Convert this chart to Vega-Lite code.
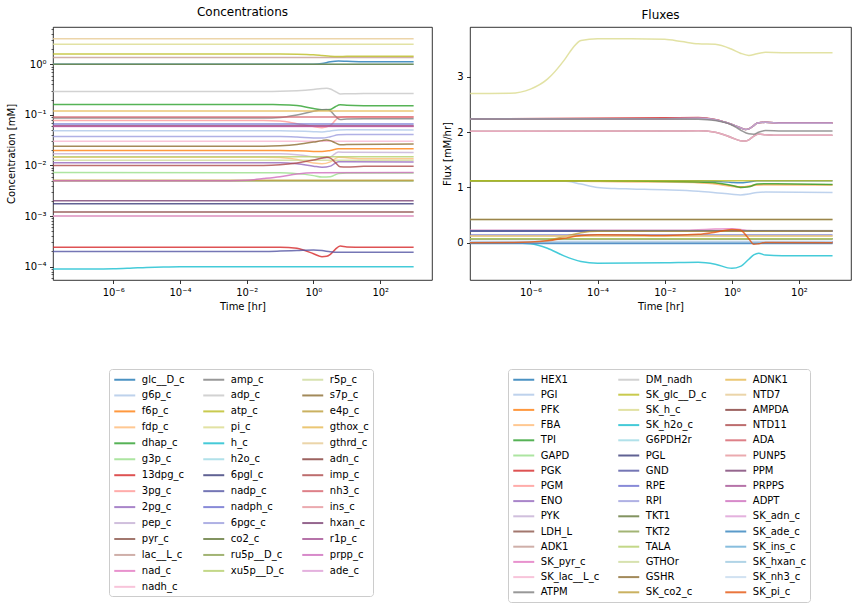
{
  "$schema": "https://vega.github.io/schema/vega-lite/v6.json",
  "padding": {"left": 6, "top": 5, "right": 5, "bottom": 5},
  "autosize": {"type": "pad"},
  "config": {
    "font": "DejaVu Sans",
    "view": {"stroke": "#000", "strokeWidth": 0.8},
    "axis": {"labelFont": "DejaVu Sans", "labelFontSize": 10, "labelColor": "#000", "titleFont": "DejaVu Sans", "titleFontSize": 10, "titleFontWeight": "normal", "titleColor": "#000", "tickColor": "#000", "tickWidth": 0.8, "tickSize": 3.5, "labelPadding": 3.5, "domain": false, "grid": false, "labelOverlap": false, "labelFlush": false},
    "title": {"font": "DejaVu Sans", "fontSize": 12, "fontWeight": "normal", "color": "#000", "offset": 5},
    "legend": {"labelFont": "DejaVu Sans", "labelFontSize": 10, "labelColor": "#000", "strokeColor": "#cccccc", "cornerRadius": 3, "fillColor": "#ffffff", "padding": 4, "labelLimit": 300, "symbolLimit": 100}
  },
  "datasets": {
    "conc": [
      {"time": 1e-8, "species": "glc__D_c", "conc": 1.0}, {"time": 0.32, "species": "glc__D_c", "conc": 1.0}, {"time": 1, "species": "glc__D_c", "conc": 1.005}, {"time": 1.8, "species": "glc__D_c", "conc": 1.04}, {"time": 3.2, "species": "glc__D_c", "conc": 1.12}, {"time": 5.6, "species": "glc__D_c", "conc": 1.16}, {"time": 10, "species": "glc__D_c", "conc": 1.15}, {"time": 32, "species": "glc__D_c", "conc": 1.13}, {"time": 1000, "species": "glc__D_c", "conc": 1.13},
      {"time": 1e-8, "species": "g6p_c", "conc": 0.0486}, {"time": 0.1, "species": "g6p_c", "conc": 0.0486}, {"time": 1, "species": "g6p_c", "conc": 0.0466}, {"time": 1.8, "species": "g6p_c", "conc": 0.046}, {"time": 3.2, "species": "g6p_c", "conc": 0.048}, {"time": 5.6, "species": "g6p_c", "conc": 0.0505}, {"time": 10, "species": "g6p_c", "conc": 0.0507}, {"time": 1000, "species": "g6p_c", "conc": 0.0505},
      {"time": 1e-8, "species": "f6p_c", "conc": 0.0198}, {"time": 0.1, "species": "f6p_c", "conc": 0.0198}, {"time": 0.32, "species": "f6p_c", "conc": 0.0195}, {"time": 1, "species": "f6p_c", "conc": 0.019}, {"time": 1.8, "species": "f6p_c", "conc": 0.0188}, {"time": 3.2, "species": "f6p_c", "conc": 0.0198}, {"time": 5.6, "species": "f6p_c", "conc": 0.0213}, {"time": 10, "species": "f6p_c", "conc": 0.0214}, {"time": 1000, "species": "f6p_c", "conc": 0.0213},
      {"time": 1e-8, "species": "fdp_c", "conc": 0.0146}, {"time": 0.032, "species": "fdp_c", "conc": 0.0146}, {"time": 0.1, "species": "fdp_c", "conc": 0.0143}, {"time": 0.32, "species": "fdp_c", "conc": 0.0132}, {"time": 1, "species": "fdp_c", "conc": 0.0112}, {"time": 1.8, "species": "fdp_c", "conc": 0.0108}, {"time": 3.2, "species": "fdp_c", "conc": 0.0118}, {"time": 5.6, "species": "fdp_c", "conc": 0.0145}, {"time": 10, "species": "fdp_c", "conc": 0.0142}, {"time": 32, "species": "fdp_c", "conc": 0.0136}, {"time": 1000, "species": "fdp_c", "conc": 0.0136},
      {"time": 1e-8, "species": "dhap_c", "conc": 0.16}, {"time": 0.032, "species": "dhap_c", "conc": 0.16}, {"time": 0.1, "species": "dhap_c", "conc": 0.159}, {"time": 0.32, "species": "dhap_c", "conc": 0.153}, {"time": 1, "species": "dhap_c", "conc": 0.134}, {"time": 1.8, "species": "dhap_c", "conc": 0.127}, {"time": 3.2, "species": "dhap_c", "conc": 0.128}, {"time": 4.5, "species": "dhap_c", "conc": 0.145}, {"time": 6.3, "species": "dhap_c", "conc": 0.158}, {"time": 10, "species": "dhap_c", "conc": 0.155}, {"time": 32, "species": "dhap_c", "conc": 0.152}, {"time": 1000, "species": "dhap_c", "conc": 0.151},
      {"time": 1e-8, "species": "g3p_c", "conc": 0.00728}, {"time": 0.1, "species": "g3p_c", "conc": 0.0072}, {"time": 0.32, "species": "g3p_c", "conc": 0.0069}, {"time": 1, "species": "g3p_c", "conc": 0.0063}, {"time": 1.8, "species": "g3p_c", "conc": 0.0059}, {"time": 3.2, "species": "g3p_c", "conc": 0.006}, {"time": 5.6, "species": "g3p_c", "conc": 0.0069}, {"time": 10, "species": "g3p_c", "conc": 0.0071}, {"time": 1000, "species": "g3p_c", "conc": 0.0071},
      {"time": 1e-8, "species": "13dpg_c", "conc": 0.000243}, {"time": 0.1, "species": "13dpg_c", "conc": 0.000243}, {"time": 0.32, "species": "13dpg_c", "conc": 0.00023}, {"time": 1, "species": "13dpg_c", "conc": 0.00018}, {"time": 1.8, "species": "13dpg_c", "conc": 0.000157}, {"time": 2.5, "species": "13dpg_c", "conc": 0.00016}, {"time": 3.2, "species": "13dpg_c", "conc": 0.000175}, {"time": 4.5, "species": "13dpg_c", "conc": 0.00022}, {"time": 6.3, "species": "13dpg_c", "conc": 0.000255}, {"time": 10, "species": "13dpg_c", "conc": 0.000245}, {"time": 32, "species": "13dpg_c", "conc": 0.000243}, {"time": 1000, "species": "13dpg_c", "conc": 0.000243},
      {"time": 1e-8, "species": "3pg_c", "conc": 0.0773}, {"time": 0.032, "species": "3pg_c", "conc": 0.0773}, {"time": 0.1, "species": "3pg_c", "conc": 0.0755}, {"time": 0.32, "species": "3pg_c", "conc": 0.067}, {"time": 1, "species": "3pg_c", "conc": 0.059}, {"time": 1.8, "species": "3pg_c", "conc": 0.056}, {"time": 3.2, "species": "3pg_c", "conc": 0.062}, {"time": 4.5, "species": "3pg_c", "conc": 0.078}, {"time": 5.6, "species": "3pg_c", "conc": 0.089}, {"time": 10, "species": "3pg_c", "conc": 0.092}, {"time": 1000, "species": "3pg_c", "conc": 0.091},
      {"time": 1e-8, "species": "2pg_c", "conc": 0.0113}, {"time": 0.1, "species": "2pg_c", "conc": 0.0113}, {"time": 0.32, "species": "2pg_c", "conc": 0.0108}, {"time": 1, "species": "2pg_c", "conc": 0.0097}, {"time": 1.8, "species": "2pg_c", "conc": 0.0092}, {"time": 3.2, "species": "2pg_c", "conc": 0.0097}, {"time": 4.5, "species": "2pg_c", "conc": 0.0111}, {"time": 5.6, "species": "2pg_c", "conc": 0.0118}, {"time": 10, "species": "2pg_c", "conc": 0.0118}, {"time": 1000, "species": "2pg_c", "conc": 0.0117},
      {"time": 1e-8, "species": "pep_c", "conc": 0.017}, {"time": 0.1, "species": "pep_c", "conc": 0.017}, {"time": 0.32, "species": "pep_c", "conc": 0.0163}, {"time": 1, "species": "pep_c", "conc": 0.0148}, {"time": 1.8, "species": "pep_c", "conc": 0.014}, {"time": 3.2, "species": "pep_c", "conc": 0.0148}, {"time": 4.5, "species": "pep_c", "conc": 0.0172}, {"time": 5.6, "species": "pep_c", "conc": 0.0185}, {"time": 10, "species": "pep_c", "conc": 0.0182}, {"time": 1000, "species": "pep_c", "conc": 0.018},
      {"time": 1e-8, "species": "pyr_c", "conc": 0.0603}, {"time": 1000, "species": "pyr_c", "conc": 0.0603},
      {"time": 1e-8, "species": "lac__L_c", "conc": 1.36}, {"time": 1000, "species": "lac__L_c", "conc": 1.36},
      {"time": 1e-8, "species": "nad_c", "conc": 0.0589}, {"time": 1000, "species": "nad_c", "conc": 0.0589},
      {"time": 1e-8, "species": "nadh_c", "conc": 0.0301}, {"time": 1000, "species": "nadh_c", "conc": 0.0301},
      {"time": 1e-8, "species": "amp_c", "conc": 0.0867}, {"time": 0.032, "species": "amp_c", "conc": 0.0867}, {"time": 0.1, "species": "amp_c", "conc": 0.089}, {"time": 0.32, "species": "amp_c", "conc": 0.1}, {"time": 1, "species": "amp_c", "conc": 0.118}, {"time": 1.8, "species": "amp_c", "conc": 0.127}, {"time": 2.5, "species": "amp_c", "conc": 0.128}, {"time": 3.2, "species": "amp_c", "conc": 0.12}, {"time": 4.5, "species": "amp_c", "conc": 0.095}, {"time": 6.3, "species": "amp_c", "conc": 0.081}, {"time": 10, "species": "amp_c", "conc": 0.083}, {"time": 32, "species": "amp_c", "conc": 0.084}, {"time": 1000, "species": "amp_c", "conc": 0.084},
      {"time": 1e-8, "species": "adp_c", "conc": 0.29}, {"time": 0.032, "species": "adp_c", "conc": 0.29}, {"time": 0.1, "species": "adp_c", "conc": 0.292}, {"time": 0.32, "species": "adp_c", "conc": 0.3}, {"time": 1, "species": "adp_c", "conc": 0.318}, {"time": 1.8, "species": "adp_c", "conc": 0.332}, {"time": 2.5, "species": "adp_c", "conc": 0.336}, {"time": 3.2, "species": "adp_c", "conc": 0.325}, {"time": 4.5, "species": "adp_c", "conc": 0.29}, {"time": 6.3, "species": "adp_c", "conc": 0.26}, {"time": 10, "species": "adp_c", "conc": 0.262}, {"time": 32, "species": "adp_c", "conc": 0.266}, {"time": 1000, "species": "adp_c", "conc": 0.266},
      {"time": 1e-8, "species": "atp_c", "conc": 1.6}, {"time": 0.1, "species": "atp_c", "conc": 1.6}, {"time": 0.32, "species": "atp_c", "conc": 1.59}, {"time": 1, "species": "atp_c", "conc": 1.55}, {"time": 1.8, "species": "atp_c", "conc": 1.5}, {"time": 3.2, "species": "atp_c", "conc": 1.45}, {"time": 5.6, "species": "atp_c", "conc": 1.43}, {"time": 10, "species": "atp_c", "conc": 1.44}, {"time": 1000, "species": "atp_c", "conc": 1.45},
      {"time": 1e-8, "species": "pi_c", "conc": 2.5}, {"time": 1000, "species": "pi_c", "conc": 2.5},
      {"time": 1e-8, "species": "h_c", "conc": 8.99e-5}, {"time": 3.2e-7, "species": "h_c", "conc": 9.0e-5}, {"time": 1e-6, "species": "h_c", "conc": 9.05e-5}, {"time": 3.2e-6, "species": "h_c", "conc": 9.3e-5}, {"time": 1e-5, "species": "h_c", "conc": 9.65e-5}, {"time": 3.2e-5, "species": "h_c", "conc": 9.85e-5}, {"time": 1e-4, "species": "h_c", "conc": 9.9e-5}, {"time": 1000, "species": "h_c", "conc": 9.9e-5},
      {"time": 1e-8, "species": "h2o_c", "conc": 1.0}, {"time": 1000, "species": "h2o_c", "conc": 1.0},
      {"time": 1e-8, "species": "6pgl_c", "conc": 0.00175}, {"time": 1000, "species": "6pgl_c", "conc": 0.00175},
      {"time": 1e-8, "species": "nadp_c", "conc": 0.0002}, {"time": 0.032, "species": "nadp_c", "conc": 0.0002}, {"time": 0.1, "species": "nadp_c", "conc": 0.000203}, {"time": 0.32, "species": "nadp_c", "conc": 0.000208}, {"time": 1, "species": "nadp_c", "conc": 0.000213}, {"time": 1.8, "species": "nadp_c", "conc": 0.000208}, {"time": 3.2, "species": "nadp_c", "conc": 0.000197}, {"time": 5.6, "species": "nadp_c", "conc": 0.000192}, {"time": 1000, "species": "nadp_c", "conc": 0.000192},
      {"time": 1e-8, "species": "nadph_c", "conc": 0.0658}, {"time": 1000, "species": "nadph_c", "conc": 0.0658},
      {"time": 1e-8, "species": "6pgc_c", "conc": 0.0375}, {"time": 0.1, "species": "6pgc_c", "conc": 0.0375}, {"time": 0.32, "species": "6pgc_c", "conc": 0.0366}, {"time": 1, "species": "6pgc_c", "conc": 0.035}, {"time": 1.8, "species": "6pgc_c", "conc": 0.0348}, {"time": 3.2, "species": "6pgc_c", "conc": 0.037}, {"time": 5.6, "species": "6pgc_c", "conc": 0.0405}, {"time": 10, "species": "6pgc_c", "conc": 0.041}, {"time": 1000, "species": "6pgc_c", "conc": 0.041},
      {"time": 1e-8, "species": "co2_c", "conc": 1.0}, {"time": 1000, "species": "co2_c", "conc": 1.0},
      {"time": 1e-8, "species": "ru5p__D_c", "conc": 0.00494}, {"time": 1000, "species": "ru5p__D_c", "conc": 0.00494},
      {"time": 1e-8, "species": "xu5p__D_c", "conc": 0.0148}, {"time": 1000, "species": "xu5p__D_c", "conc": 0.0148},
      {"time": 1e-8, "species": "r5p_c", "conc": 0.0127}, {"time": 1000, "species": "r5p_c", "conc": 0.0127},
      {"time": 1e-8, "species": "s7p_c", "conc": 0.024}, {"time": 0.032, "species": "s7p_c", "conc": 0.024}, {"time": 0.1, "species": "s7p_c", "conc": 0.0245}, {"time": 0.32, "species": "s7p_c", "conc": 0.026}, {"time": 1, "species": "s7p_c", "conc": 0.029}, {"time": 1.8, "species": "s7p_c", "conc": 0.031}, {"time": 2.5, "species": "s7p_c", "conc": 0.032}, {"time": 3.2, "species": "s7p_c", "conc": 0.031}, {"time": 4.5, "species": "s7p_c", "conc": 0.028}, {"time": 6.3, "species": "s7p_c", "conc": 0.0256}, {"time": 10, "species": "s7p_c", "conc": 0.026}, {"time": 1000, "species": "s7p_c", "conc": 0.0265},
      {"time": 1e-8, "species": "e4p_c", "conc": 0.00508}, {"time": 1000, "species": "e4p_c", "conc": 0.00508},
      {"time": 1e-8, "species": "gthox_c", "conc": 0.12}, {"time": 1000, "species": "gthox_c", "conc": 0.12},
      {"time": 1e-8, "species": "gthrd_c", "conc": 3.2}, {"time": 1000, "species": "gthrd_c", "conc": 3.2},
      {"time": 1e-8, "species": "adn_c", "conc": 0.0012}, {"time": 1000, "species": "adn_c", "conc": 0.0012},
      {"time": 1e-8, "species": "imp_c", "conc": 0.01}, {"time": 0.032, "species": "imp_c", "conc": 0.01}, {"time": 0.1, "species": "imp_c", "conc": 0.0103}, {"time": 0.32, "species": "imp_c", "conc": 0.0112}, {"time": 1, "species": "imp_c", "conc": 0.0128}, {"time": 1.8, "species": "imp_c", "conc": 0.014}, {"time": 2.5, "species": "imp_c", "conc": 0.0145}, {"time": 3.2, "species": "imp_c", "conc": 0.014}, {"time": 4.5, "species": "imp_c", "conc": 0.0115}, {"time": 6.3, "species": "imp_c", "conc": 0.0094}, {"time": 10, "species": "imp_c", "conc": 0.0093}, {"time": 32, "species": "imp_c", "conc": 0.0096}, {"time": 1000, "species": "imp_c", "conc": 0.0097},
      {"time": 1e-8, "species": "nh3_c", "conc": 0.091}, {"time": 1000, "species": "nh3_c", "conc": 0.091},
      {"time": 1e-8, "species": "ins_c", "conc": 0.001}, {"time": 1000, "species": "ins_c", "conc": 0.001},
      {"time": 1e-8, "species": "hxan_c", "conc": 0.002}, {"time": 1000, "species": "hxan_c", "conc": 0.002},
      {"time": 1e-8, "species": "r1p_c", "conc": 0.06}, {"time": 1000, "species": "r1p_c", "conc": 0.06},
      {"time": 1e-8, "species": "prpp_c", "conc": 0.005}, {"time": 0.0032, "species": "prpp_c", "conc": 0.005}, {"time": 0.01, "species": "prpp_c", "conc": 0.0051}, {"time": 0.032, "species": "prpp_c", "conc": 0.0055}, {"time": 0.1, "species": "prpp_c", "conc": 0.006}, {"time": 0.32, "species": "prpp_c", "conc": 0.0068}, {"time": 1, "species": "prpp_c", "conc": 0.0072}, {"time": 1000, "species": "prpp_c", "conc": 0.0073},
      {"time": 1e-8, "species": "ade_c", "conc": 0.001}, {"time": 1000, "species": "ade_c", "conc": 0.001}
    ],
    "flux": [
      {"time": 1e-8, "reaction": "HEX1", "flux": 1.12}, {"time": 0.1, "reaction": "HEX1", "flux": 1.12}, {"time": 0.32, "reaction": "HEX1", "flux": 1.11}, {"time": 1, "reaction": "HEX1", "flux": 1.09}, {"time": 1.8, "reaction": "HEX1", "flux": 1.085}, {"time": 3.2, "reaction": "HEX1", "flux": 1.1}, {"time": 5.6, "reaction": "HEX1", "flux": 1.12}, {"time": 1000, "reaction": "HEX1", "flux": 1.12},
      {"time": 1e-8, "reaction": "PGI", "flux": 1.12}, {"time": 3.2e-6, "reaction": "PGI", "flux": 1.12}, {"time": 1e-5, "reaction": "PGI", "flux": 1.115}, {"time": 3.2e-5, "reaction": "PGI", "flux": 1.06}, {"time": 1e-4, "reaction": "PGI", "flux": 1.0}, {"time": 3.2e-4, "reaction": "PGI", "flux": 0.98}, {"time": 0.001, "reaction": "PGI", "flux": 0.972}, {"time": 0.01, "reaction": "PGI", "flux": 0.958}, {"time": 0.1, "reaction": "PGI", "flux": 0.932}, {"time": 0.32, "reaction": "PGI", "flux": 0.905}, {"time": 1, "reaction": "PGI", "flux": 0.875}, {"time": 1.8, "reaction": "PGI", "flux": 0.865}, {"time": 3.2, "reaction": "PGI", "flux": 0.88}, {"time": 5.6, "reaction": "PGI", "flux": 0.91}, {"time": 10, "reaction": "PGI", "flux": 0.915}, {"time": 1000, "reaction": "PGI", "flux": 0.91},
      {"time": 1e-8, "reaction": "PFK", "flux": 1.12}, {"time": 1e-5, "reaction": "PFK", "flux": 1.12}, {"time": 1e-4, "reaction": "PFK", "flux": 1.11}, {"time": 0.01, "reaction": "PFK", "flux": 1.105}, {"time": 0.1, "reaction": "PFK", "flux": 1.09}, {"time": 0.32, "reaction": "PFK", "flux": 1.07}, {"time": 1, "reaction": "PFK", "flux": 1.03}, {"time": 1.8, "reaction": "PFK", "flux": 1.01}, {"time": 3.2, "reaction": "PFK", "flux": 1.02}, {"time": 5.6, "reaction": "PFK", "flux": 1.05}, {"time": 10, "reaction": "PFK", "flux": 1.052}, {"time": 1000, "reaction": "PFK", "flux": 1.05},
      {"time": 1e-8, "reaction": "FBA", "flux": 1.12}, {"time": 1e-5, "reaction": "FBA", "flux": 1.12}, {"time": 1e-4, "reaction": "FBA", "flux": 1.108}, {"time": 0.01, "reaction": "FBA", "flux": 1.1}, {"time": 0.1, "reaction": "FBA", "flux": 1.085}, {"time": 0.32, "reaction": "FBA", "flux": 1.06}, {"time": 1, "reaction": "FBA", "flux": 1.015}, {"time": 1.8, "reaction": "FBA", "flux": 1.0}, {"time": 3.2, "reaction": "FBA", "flux": 1.015}, {"time": 5.6, "reaction": "FBA", "flux": 1.045}, {"time": 10, "reaction": "FBA", "flux": 1.05}, {"time": 1000, "reaction": "FBA", "flux": 1.05},
      {"time": 1e-8, "reaction": "TPI", "flux": 1.12}, {"time": 1e-4, "reaction": "TPI", "flux": 1.12}, {"time": 0.001, "reaction": "TPI", "flux": 1.115}, {"time": 0.1, "reaction": "TPI", "flux": 1.1}, {"time": 0.32, "reaction": "TPI", "flux": 1.085}, {"time": 1, "reaction": "TPI", "flux": 1.035}, {"time": 1.8, "reaction": "TPI", "flux": 1.0}, {"time": 3.2, "reaction": "TPI", "flux": 1.01}, {"time": 5.6, "reaction": "TPI", "flux": 1.06}, {"time": 10, "reaction": "TPI", "flux": 1.065}, {"time": 1000, "reaction": "TPI", "flux": 1.055},
      {"time": 1e-8, "reaction": "GAPD", "flux": 2.24}, {"time": 0.01, "reaction": "GAPD", "flux": 2.245}, {"time": 0.1, "reaction": "GAPD", "flux": 2.25}, {"time": 0.32, "reaction": "GAPD", "flux": 2.225}, {"time": 1, "reaction": "GAPD", "flux": 2.14}, {"time": 1.8, "reaction": "GAPD", "flux": 2.08}, {"time": 2.5, "reaction": "GAPD", "flux": 2.05}, {"time": 3.2, "reaction": "GAPD", "flux": 2.06}, {"time": 4.5, "reaction": "GAPD", "flux": 2.12}, {"time": 5.6, "reaction": "GAPD", "flux": 2.16}, {"time": 10, "reaction": "GAPD", "flux": 2.18}, {"time": 32, "reaction": "GAPD", "flux": 2.165}, {"time": 1000, "reaction": "GAPD", "flux": 2.165},
      {"time": 1e-8, "reaction": "PGK", "flux": 2.24}, {"time": 0.01, "reaction": "PGK", "flux": 2.26}, {"time": 0.1, "reaction": "PGK", "flux": 2.265}, {"time": 0.32, "reaction": "PGK", "flux": 2.23}, {"time": 1, "reaction": "PGK", "flux": 2.14}, {"time": 1.8, "reaction": "PGK", "flux": 2.08}, {"time": 2.5, "reaction": "PGK", "flux": 2.05}, {"time": 3.2, "reaction": "PGK", "flux": 2.06}, {"time": 4.5, "reaction": "PGK", "flux": 2.12}, {"time": 5.6, "reaction": "PGK", "flux": 2.16}, {"time": 10, "reaction": "PGK", "flux": 2.18}, {"time": 32, "reaction": "PGK", "flux": 2.165}, {"time": 1000, "reaction": "PGK", "flux": 2.165},
      {"time": 1e-8, "reaction": "PGM", "flux": 2.24}, {"time": 0.01, "reaction": "PGM", "flux": 2.245}, {"time": 0.1, "reaction": "PGM", "flux": 2.25}, {"time": 0.32, "reaction": "PGM", "flux": 2.225}, {"time": 1, "reaction": "PGM", "flux": 2.14}, {"time": 1.8, "reaction": "PGM", "flux": 2.08}, {"time": 2.5, "reaction": "PGM", "flux": 2.05}, {"time": 3.2, "reaction": "PGM", "flux": 2.06}, {"time": 4.5, "reaction": "PGM", "flux": 2.12}, {"time": 5.6, "reaction": "PGM", "flux": 2.16}, {"time": 10, "reaction": "PGM", "flux": 2.18}, {"time": 32, "reaction": "PGM", "flux": 2.165}, {"time": 1000, "reaction": "PGM", "flux": 2.165},
      {"time": 1e-8, "reaction": "ENO", "flux": 2.24}, {"time": 0.01, "reaction": "ENO", "flux": 2.245}, {"time": 0.1, "reaction": "ENO", "flux": 2.25}, {"time": 0.32, "reaction": "ENO", "flux": 2.225}, {"time": 1, "reaction": "ENO", "flux": 2.14}, {"time": 1.8, "reaction": "ENO", "flux": 2.08}, {"time": 2.5, "reaction": "ENO", "flux": 2.05}, {"time": 3.2, "reaction": "ENO", "flux": 2.06}, {"time": 4.5, "reaction": "ENO", "flux": 2.12}, {"time": 5.6, "reaction": "ENO", "flux": 2.16}, {"time": 10, "reaction": "ENO", "flux": 2.18}, {"time": 32, "reaction": "ENO", "flux": 2.165}, {"time": 1000, "reaction": "ENO", "flux": 2.165},
      {"time": 1e-8, "reaction": "PYK", "flux": 2.24}, {"time": 0.01, "reaction": "PYK", "flux": 2.245}, {"time": 0.1, "reaction": "PYK", "flux": 2.25}, {"time": 0.32, "reaction": "PYK", "flux": 2.225}, {"time": 1, "reaction": "PYK", "flux": 2.14}, {"time": 1.8, "reaction": "PYK", "flux": 2.08}, {"time": 2.5, "reaction": "PYK", "flux": 2.05}, {"time": 3.2, "reaction": "PYK", "flux": 2.06}, {"time": 4.5, "reaction": "PYK", "flux": 2.12}, {"time": 5.6, "reaction": "PYK", "flux": 2.16}, {"time": 10, "reaction": "PYK", "flux": 2.18}, {"time": 32, "reaction": "PYK", "flux": 2.16}, {"time": 1000, "reaction": "PYK", "flux": 2.16},
      {"time": 1e-8, "reaction": "LDH_L", "flux": 2.016}, {"time": 0.01, "reaction": "LDH_L", "flux": 2.02}, {"time": 0.1, "reaction": "LDH_L", "flux": 2.025}, {"time": 0.32, "reaction": "LDH_L", "flux": 2.0}, {"time": 1, "reaction": "LDH_L", "flux": 1.9}, {"time": 1.8, "reaction": "LDH_L", "flux": 1.845}, {"time": 2.5, "reaction": "LDH_L", "flux": 1.84}, {"time": 3.2, "reaction": "LDH_L", "flux": 1.86}, {"time": 4.5, "reaction": "LDH_L", "flux": 1.93}, {"time": 6.3, "reaction": "LDH_L", "flux": 1.965}, {"time": 10, "reaction": "LDH_L", "flux": 1.955}, {"time": 32, "reaction": "LDH_L", "flux": 1.945}, {"time": 1000, "reaction": "LDH_L", "flux": 1.945},
      {"time": 1e-8, "reaction": "ADK1", "flux": 0.0}, {"time": 1000, "reaction": "ADK1", "flux": 0.0},
      {"time": 1e-8, "reaction": "SK_pyr_c", "flux": 0.224}, {"time": 0.032, "reaction": "SK_pyr_c", "flux": 0.225}, {"time": 0.1, "reaction": "SK_pyr_c", "flux": 0.235}, {"time": 0.32, "reaction": "SK_pyr_c", "flux": 0.245}, {"time": 1, "reaction": "SK_pyr_c", "flux": 0.25}, {"time": 1.8, "reaction": "SK_pyr_c", "flux": 0.24}, {"time": 3.2, "reaction": "SK_pyr_c", "flux": 0.22}, {"time": 5.6, "reaction": "SK_pyr_c", "flux": 0.215}, {"time": 1000, "reaction": "SK_pyr_c", "flux": 0.215},
      {"time": 1e-8, "reaction": "SK_lac__L_c", "flux": 2.016}, {"time": 0.01, "reaction": "SK_lac__L_c", "flux": 2.02}, {"time": 0.1, "reaction": "SK_lac__L_c", "flux": 2.025}, {"time": 0.32, "reaction": "SK_lac__L_c", "flux": 2.0}, {"time": 1, "reaction": "SK_lac__L_c", "flux": 1.9}, {"time": 1.8, "reaction": "SK_lac__L_c", "flux": 1.845}, {"time": 2.5, "reaction": "SK_lac__L_c", "flux": 1.84}, {"time": 3.2, "reaction": "SK_lac__L_c", "flux": 1.86}, {"time": 4.5, "reaction": "SK_lac__L_c", "flux": 1.93}, {"time": 6.3, "reaction": "SK_lac__L_c", "flux": 1.965}, {"time": 10, "reaction": "SK_lac__L_c", "flux": 1.955}, {"time": 32, "reaction": "SK_lac__L_c", "flux": 1.945}, {"time": 1000, "reaction": "SK_lac__L_c", "flux": 1.945},
      {"time": 1e-8, "reaction": "ATPM", "flux": 2.24}, {"time": 0.01, "reaction": "ATPM", "flux": 2.24}, {"time": 0.1, "reaction": "ATPM", "flux": 2.235}, {"time": 0.32, "reaction": "ATPM", "flux": 2.21}, {"time": 1, "reaction": "ATPM", "flux": 2.13}, {"time": 1.8, "reaction": "ATPM", "flux": 2.04}, {"time": 3.2, "reaction": "ATPM", "flux": 1.97}, {"time": 4.5, "reaction": "ATPM", "flux": 1.962}, {"time": 6.3, "reaction": "ATPM", "flux": 2.0}, {"time": 10, "reaction": "ATPM", "flux": 2.03}, {"time": 32, "reaction": "ATPM", "flux": 2.02}, {"time": 1000, "reaction": "ATPM", "flux": 2.02},
      {"time": 1e-8, "reaction": "DM_nadh", "flux": 0.22}, {"time": 1000, "reaction": "DM_nadh", "flux": 0.22},
      {"time": 1e-8, "reaction": "SK_glc__D_c", "flux": 1.12}, {"time": 1000, "reaction": "SK_glc__D_c", "flux": 1.12},
      {"time": 1e-8, "reaction": "SK_h_c", "flux": 2.7}, {"time": 2.5e-7, "reaction": "SK_h_c", "flux": 2.705}, {"time": 1e-6, "reaction": "SK_h_c", "flux": 2.78}, {"time": 3.2e-6, "reaction": "SK_h_c", "flux": 2.96}, {"time": 1e-5, "reaction": "SK_h_c", "flux": 3.3}, {"time": 1.8e-5, "reaction": "SK_h_c", "flux": 3.52}, {"time": 3.2e-5, "reaction": "SK_h_c", "flux": 3.66}, {"time": 1e-4, "reaction": "SK_h_c", "flux": 3.69}, {"time": 0.001, "reaction": "SK_h_c", "flux": 3.69}, {"time": 0.01, "reaction": "SK_h_c", "flux": 3.68}, {"time": 0.032, "reaction": "SK_h_c", "flux": 3.64}, {"time": 0.1, "reaction": "SK_h_c", "flux": 3.6}, {"time": 0.32, "reaction": "SK_h_c", "flux": 3.59}, {"time": 1, "reaction": "SK_h_c", "flux": 3.5}, {"time": 1.8, "reaction": "SK_h_c", "flux": 3.43}, {"time": 3.2, "reaction": "SK_h_c", "flux": 3.39}, {"time": 5.6, "reaction": "SK_h_c", "flux": 3.42}, {"time": 10, "reaction": "SK_h_c", "flux": 3.445}, {"time": 32, "reaction": "SK_h_c", "flux": 3.44}, {"time": 1000, "reaction": "SK_h_c", "flux": 3.44},
      {"time": 1e-8, "reaction": "SK_h2o_c", "flux": 0.0}, {"time": 3.2e-7, "reaction": "SK_h2o_c", "flux": -0.005}, {"time": 1e-6, "reaction": "SK_h2o_c", "flux": -0.02}, {"time": 3.2e-6, "reaction": "SK_h2o_c", "flux": -0.1}, {"time": 1e-5, "reaction": "SK_h2o_c", "flux": -0.24}, {"time": 3.2e-5, "reaction": "SK_h2o_c", "flux": -0.34}, {"time": 1e-4, "reaction": "SK_h2o_c", "flux": -0.372}, {"time": 0.001, "reaction": "SK_h2o_c", "flux": -0.37}, {"time": 0.01, "reaction": "SK_h2o_c", "flux": -0.365}, {"time": 0.1, "reaction": "SK_h2o_c", "flux": -0.355}, {"time": 0.32, "reaction": "SK_h2o_c", "flux": -0.39}, {"time": 1, "reaction": "SK_h2o_c", "flux": -0.465}, {"time": 1.8, "reaction": "SK_h2o_c", "flux": -0.43}, {"time": 3.2, "reaction": "SK_h2o_c", "flux": -0.3}, {"time": 4.5, "reaction": "SK_h2o_c", "flux": -0.22}, {"time": 6.3, "reaction": "SK_h2o_c", "flux": -0.19}, {"time": 10, "reaction": "SK_h2o_c", "flux": -0.225}, {"time": 32, "reaction": "SK_h2o_c", "flux": -0.235}, {"time": 1000, "reaction": "SK_h2o_c", "flux": -0.235},
      {"time": 1e-8, "reaction": "G6PDH2r", "flux": 0.21}, {"time": 1000, "reaction": "G6PDH2r", "flux": 0.21},
      {"time": 1e-8, "reaction": "PGL", "flux": 0.21}, {"time": 1000, "reaction": "PGL", "flux": 0.21},
      {"time": 1e-8, "reaction": "GND", "flux": 0.21}, {"time": 1000, "reaction": "GND", "flux": 0.21},
      {"time": 1e-8, "reaction": "RPE", "flux": 0.14}, {"time": 1000, "reaction": "RPE", "flux": 0.14},
      {"time": 1e-8, "reaction": "RPI", "flux": 0.07}, {"time": 1000, "reaction": "RPI", "flux": 0.07},
      {"time": 1e-8, "reaction": "TKT1", "flux": 0.07}, {"time": 1000, "reaction": "TKT1", "flux": 0.07},
      {"time": 1e-8, "reaction": "TKT2", "flux": 0.07}, {"time": 1000, "reaction": "TKT2", "flux": 0.07},
      {"time": 1e-8, "reaction": "TALA", "flux": 0.07}, {"time": 1000, "reaction": "TALA", "flux": 0.07},
      {"time": 1e-8, "reaction": "GTHOr", "flux": 0.42}, {"time": 1000, "reaction": "GTHOr", "flux": 0.42},
      {"time": 1e-8, "reaction": "GSHR", "flux": 0.42}, {"time": 1000, "reaction": "GSHR", "flux": 0.42},
      {"time": 1e-8, "reaction": "SK_co2_c", "flux": 0.0}, {"time": 3.2e-7, "reaction": "SK_co2_c", "flux": 0.002}, {"time": 1e-6, "reaction": "SK_co2_c", "flux": 0.01}, {"time": 3.2e-6, "reaction": "SK_co2_c", "flux": 0.04}, {"time": 1e-5, "reaction": "SK_co2_c", "flux": 0.11}, {"time": 3.2e-5, "reaction": "SK_co2_c", "flux": 0.18}, {"time": 1e-4, "reaction": "SK_co2_c", "flux": 0.205}, {"time": 1000, "reaction": "SK_co2_c", "flux": 0.21},
      {"time": 1e-8, "reaction": "ADNK1", "flux": 0.12}, {"time": 1000, "reaction": "ADNK1", "flux": 0.12},
      {"time": 1e-8, "reaction": "NTD7", "flux": 0.12}, {"time": 1000, "reaction": "NTD7", "flux": 0.12},
      {"time": 1e-8, "reaction": "AMPDA", "flux": 0.014}, {"time": 1000, "reaction": "AMPDA", "flux": 0.014},
      {"time": 1e-8, "reaction": "NTD11", "flux": 0.014}, {"time": 1000, "reaction": "NTD11", "flux": 0.014},
      {"time": 1e-8, "reaction": "ADA", "flux": 0.01}, {"time": 1000, "reaction": "ADA", "flux": 0.01},
      {"time": 1e-8, "reaction": "PUNP5", "flux": 0.014}, {"time": 1000, "reaction": "PUNP5", "flux": 0.014},
      {"time": 1e-8, "reaction": "PPM", "flux": 0.014}, {"time": 1000, "reaction": "PPM", "flux": 0.014},
      {"time": 1e-8, "reaction": "PRPPS", "flux": 0.014}, {"time": 1000, "reaction": "PRPPS", "flux": 0.014},
      {"time": 1e-8, "reaction": "ADPT", "flux": 0.014}, {"time": 1000, "reaction": "ADPT", "flux": 0.014},
      {"time": 1e-8, "reaction": "SK_adn_c", "flux": -0.01}, {"time": 1000, "reaction": "SK_adn_c", "flux": -0.01},
      {"time": 1e-8, "reaction": "SK_ade_c", "flux": -0.014}, {"time": 1000, "reaction": "SK_ade_c", "flux": -0.014},
      {"time": 1e-8, "reaction": "SK_ins_c", "flux": 0.004}, {"time": 1000, "reaction": "SK_ins_c", "flux": 0.004},
      {"time": 1e-8, "reaction": "SK_hxan_c", "flux": 0.014}, {"time": 1000, "reaction": "SK_hxan_c", "flux": 0.014},
      {"time": 1e-8, "reaction": "SK_nh3_c", "flux": 0.024}, {"time": 1000, "reaction": "SK_nh3_c", "flux": 0.024},
      {"time": 1e-8, "reaction": "SK_pi_c", "flux": 0.0}, {"time": 3.2e-7, "reaction": "SK_pi_c", "flux": 0.002}, {"time": 1e-6, "reaction": "SK_pi_c", "flux": 0.01}, {"time": 3.2e-6, "reaction": "SK_pi_c", "flux": 0.035}, {"time": 1e-5, "reaction": "SK_pi_c", "flux": 0.08}, {"time": 3.2e-5, "reaction": "SK_pi_c", "flux": 0.13}, {"time": 1e-4, "reaction": "SK_pi_c", "flux": 0.145}, {"time": 0.001, "reaction": "SK_pi_c", "flux": 0.14}, {"time": 0.01, "reaction": "SK_pi_c", "flux": 0.13}, {"time": 0.1, "reaction": "SK_pi_c", "flux": 0.15}, {"time": 0.32, "reaction": "SK_pi_c", "flux": 0.19}, {"time": 1, "reaction": "SK_pi_c", "flux": 0.24}, {"time": 1.8, "reaction": "SK_pi_c", "flux": 0.23}, {"time": 2.5, "reaction": "SK_pi_c", "flux": 0.15}, {"time": 3.2, "reaction": "SK_pi_c", "flux": 0.07}, {"time": 4.5, "reaction": "SK_pi_c", "flux": -0.03}, {"time": 6.3, "reaction": "SK_pi_c", "flux": -0.02}, {"time": 10, "reaction": "SK_pi_c", "flux": 0.005}, {"time": 1000, "reaction": "SK_pi_c", "flux": 0.0}
    ]
  },
  "hconcat": [
    {
      "title": "Concentrations",
      "width": 379,
      "height": 253,
      "data": {"name": "conc"},
      "mark": {"type": "line", "strokeWidth": 1.5, "strokeOpacity": 0.8, "clip": true, "interpolate": "monotone"},
      "encoding": {
        "x": {"field": "time", "type": "quantitative", "scale": {"type": "log", "domain": [1.58e-8, 3548], "nice": false},
          "axis": {"title": "Time [hr]", "values": [1e-6, 1e-4, 0.01, 1, 100], "labelExpr": "['10⁻⁶','','10⁻⁴','','10⁻²','','10⁰','','10²'][round(log(datum.value)/LN10)+6]", "titlePadding": 4}},
        "y": {"field": "conc", "type": "quantitative", "scale": {"type": "log", "domain": [5.44e-5, 5.47], "nice": false},
          "axis": {"title": "Concentration [mM]", "titlePadding": 7,
            "values": [6e-5, 7e-5, 8e-5, 9e-5, 1e-4, 2e-4, 3e-4, 4e-4, 5e-4, 6e-4, 7e-4, 8e-4, 9e-4, 0.001, 0.002, 0.003, 0.004, 0.005, 0.006, 0.007, 0.008, 0.009, 0.01, 0.02, 0.03, 0.04, 0.05, 0.06, 0.07, 0.08, 0.09, 0.1, 0.2, 0.3, 0.4, 0.5, 0.6, 0.7, 0.8, 0.9, 1, 2, 3, 4, 5],
            "labelExpr": "abs(log(datum.value)/LN10-round(log(datum.value)/LN10))>0.01 ? '' : ['10⁻⁴','10⁻³','10⁻²','10⁻¹','10⁰'][round(log(datum.value)/LN10)+4]",
            "tickSize": {"condition": {"test": "abs(log(datum.value)/LN10-round(log(datum.value)/LN10))<0.01", "value": 3.5}, "value": 2},
            "tickWidth": {"condition": {"test": "abs(log(datum.value)/LN10-round(log(datum.value)/LN10))<0.01", "value": 0.8}, "value": 0.6}}},
        "color": {"field": "species", "type": "nominal",
          "scale": {
            "domain": ["glc__D_c","amp_c","r5p_c","g6p_c","adp_c","s7p_c","f6p_c","atp_c","e4p_c","fdp_c","pi_c","gthox_c","dhap_c","h_c","gthrd_c","g3p_c","h2o_c","adn_c","13dpg_c","6pgl_c","imp_c","3pg_c","nadp_c","nh3_c","2pg_c","nadph_c","ins_c","pep_c","6pgc_c","hxan_c","pyr_c","co2_c","r1p_c","lac__L_c","ru5p__D_c","prpp_c","nad_c","xu5p__D_c","ade_c","nadh_c"],
            "range": ["#1f77b4","#7f7f7f","#cedb9c","#aec7e8","#c7c7c7","#8c6d31","#ff7f0e","#bcbd22","#bd9e39","#ffbb78","#dbdb8d","#e7ba52","#2ca02c","#17becf","#e7cb94","#98df8a","#9edae5","#843c39","#d62728","#393b79","#ad494a","#ff9896","#5254a3","#d6616b","#9467bd","#6b6ecf","#e7969c","#c5b0d5","#9c9ede","#7b4173","#8c564b","#637939","#a55194","#c49c94","#8ca252","#ce6dbd","#e377c2","#b5cf6b","#de9ed6","#f7b6d2"]
          },
          "legend": {"title": null, "orient": "none", "direction": "horizontal", "legendX": 56, "legendY": 342, "columns": 3, "columnPadding": 14, "rowPadding": 3.95, "symbolType": "M-1,0H3", "symbolSize": 110, "symbolStrokeWidth": 2, "symbolOpacity": 0.8, "labelOffset": 15.8}
        }
      }
    },
    {
      "title": "Fluxes",
      "width": 381,
      "height": 253,
      "data": {"name": "flux"},
      "mark": {"type": "line", "strokeWidth": 1.5, "strokeOpacity": 0.8, "clip": true, "interpolate": "monotone"},
      "encoding": {
        "x": {"field": "time", "type": "quantitative", "scale": {"type": "log", "domain": [1.58e-8, 3548], "nice": false},
          "axis": {"title": "Time [hr]", "values": [1e-6, 1e-4, 0.01, 1, 100], "labelExpr": "['10⁻⁶','','10⁻⁴','','10⁻²','','10⁰','','10²'][round(log(datum.value)/LN10)+6]", "titlePadding": 4}},
        "y": {"field": "flux", "type": "quantitative", "scale": {"domain": [-0.676, 3.904], "nice": false, "zero": false},
          "axis": {"title": "Flux [mM/hr]", "values": [0, 1, 2, 3], "titlePadding": 4}},
        "color": {"field": "reaction", "type": "nominal",
          "scale": {
            "domain": ["HEX1","DM_nadh","ADNK1","PGI","SK_glc__D_c","NTD7","PFK","SK_h_c","AMPDA","FBA","SK_h2o_c","NTD11","TPI","G6PDH2r","ADA","GAPD","PGL","PUNP5","PGK","GND","PPM","PGM","RPE","PRPPS","ENO","RPI","ADPT","PYK","TKT1","SK_adn_c","LDH_L","TKT2","SK_ade_c","ADK1","TALA","SK_ins_c","SK_pyr_c","GTHOr","SK_hxan_c","SK_lac__L_c","GSHR","SK_nh3_c","ATPM","SK_co2_c","SK_pi_c"],
            "range": ["#1f77b4","#c7c7c7","#e7ba52","#aec7e8","#bcbd22","#e7cb94","#ff7f0e","#dbdb8d","#843c39","#ffbb78","#17becf","#ad494a","#2ca02c","#9edae5","#d6616b","#98df8a","#393b79","#e7969c","#d62728","#5254a3","#7b4173","#ff9896","#6b6ecf","#a55194","#9467bd","#9c9ede","#ce6dbd","#c5b0d5","#637939","#de9ed6","#8c564b","#8ca252","#3182bd","#c49c94","#b5cf6b","#6baed6","#e377c2","#cedb9c","#9ecae1","#f7b6d2","#8c6d31","#c6dbef","#7f7f7f","#bd9e39","#e6550d"]
          },
          "legend": {"title": null, "orient": "none", "direction": "horizontal", "legendX": 38, "legendY": 342, "columns": 3, "columnPadding": 14, "rowPadding": 3.2, "symbolType": "M-1,0H3", "symbolSize": 110, "symbolStrokeWidth": 2, "symbolOpacity": 0.8, "labelOffset": 15.8}
        }
      }
    }
  ],
  "spacing": 9,
  "resolve": {"scale": {"color": "independent", "x": "independent", "y": "independent"}, "legend": {"color": "independent"}}
}
